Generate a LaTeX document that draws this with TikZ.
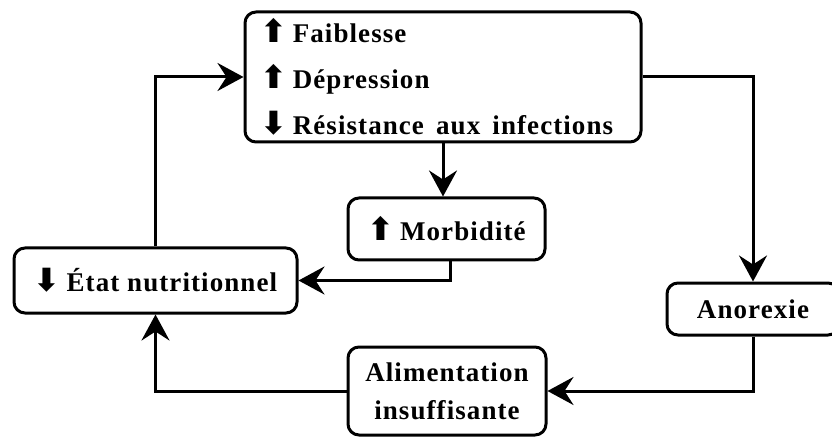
\documentclass[tikz,border=0pt]{standalone}
\usepackage{fontspec}
\setmainfont{Liberation Serif}
\newfontfamily\labfont{Liberation Serif}[LetterSpace=4]
\newfontfamily\arrfont{DejaVu Sans}
\usetikzlibrary{arrows.meta}
\newcommand\upA{{\arrfont\fontsize{32}{32}\selectfont ⬆}\hskip 6pt}
\newcommand\dnA{{\arrfont\fontsize{32}{32}\selectfont ⬇}\hskip 6pt}
\tikzset{
  box/.style={draw, line width=3pt, rounded corners=11pt, inner sep=0pt,
    font=\labfont\bfseries\fontsize{27}{38}\selectfont, align=center},
  conn/.style={line width=3pt, -{Stealth[length=26pt,width=28pt,inset=9pt]}}
}
\begin{document}
\begin{tikzpicture}[x=1pt,y=-1pt]
\useasboundingbox (0,0) rectangle (832,438);
\node[box, minimum width=396pt, minimum height=130pt, text width=366pt, align=left,
  font=\labfont\bfseries\fontsize{27}{46}\selectfont] (top) at (443,77)
  {\upA Faiblesse\\ \upA Dépression\\ \dnA Résistance\hskip 0.45em aux\hskip 0.45em infections};
\node[box, minimum width=197pt, minimum height=62pt] (morb) at (446.5,229) {\upA Morbidité};
\node[box, minimum width=283pt, minimum height=65pt] (etat) at (155.5,280.5) {\dnA État nutritionnel};
\node[box, minimum width=172pt, minimum height=52pt] (anor) at (753,309) {Anorexie};
\node[box, minimum width=198pt, minimum height=88pt] (alim) at (447,391) {Alimentation\\insuffisante};
\draw[conn] (top.south) -- (top.south |- morb.north);
\draw[conn] ([xshift=4pt]morb.south) |- (etat.east);
\draw[conn] (etat.north) |- (top.west);
\draw[conn] (top.east) -| (anor.north);
\draw[conn] (anor.south) |- (alim.east);
\draw[conn] (alim.west) -| (etat.south);
\end{tikzpicture}
\end{document}
